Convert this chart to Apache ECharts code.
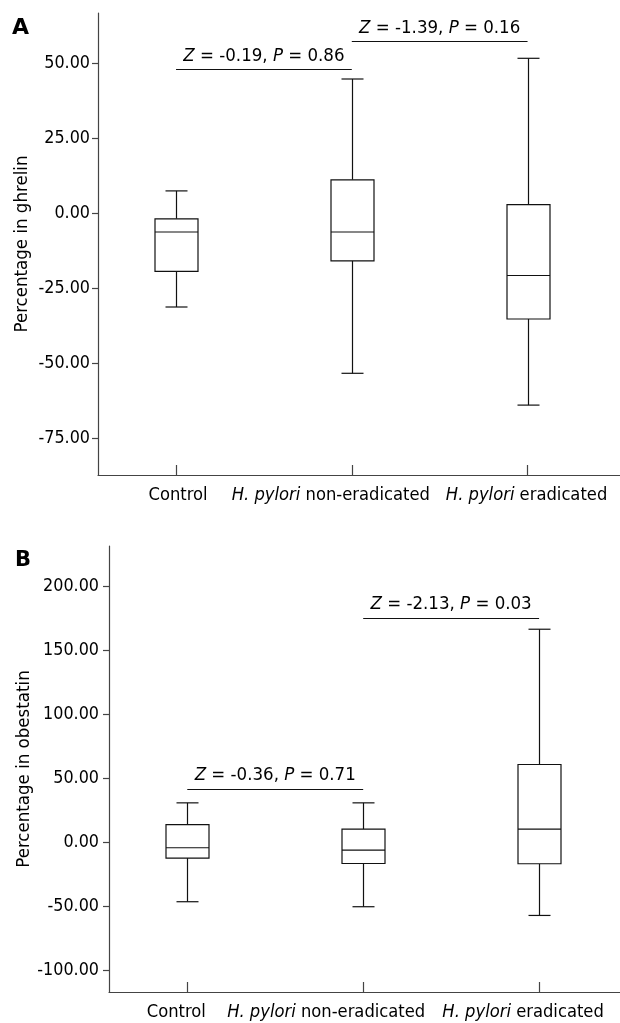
<!DOCTYPE html>
<html>
<head>
<meta charset="utf-8">
<script src="https://cdn.jsdelivr.net/npm/echarts@6/dist/echarts.min.js"></script>
<style>
  html, body { margin: 0; padding: 0; background: #fff; }
  #chart { width: 620px; height: 1023px; }
</style>
</head>
<body>
<div id="chart"></div>
<script>
// categories (x positions are the indexes 0, 1, 2)
const categories = ['Control', 'H. pylori non-eradicated', 'H. pylori eradicated'];

// panel A: ghrelin, [min, Q1, median, Q3, max]
const ghrelinMin = [-31.3, -53.4, -64.0];
const ghrelinQ1 = [-19.4, -15.9, -35.3];
const ghrelinMedian = [-6.3, -6.3, -20.8];
const ghrelinQ3 = [-1.9, 11.1, 2.8];
const ghrelinMax = [7.4, 44.7, 51.6];
const ghrelinTicks = [-75, -50, -25, 0, 25, 50];

// panel B: obestatin
const obestatinMin = [-46.2, -50.1, -56.9];
const obestatinQ1 = [-12.2, -16.4, -16.6];
const obestatinMedian = [-4.1, -5.9, 10.4];
const obestatinQ3 = [14.0, 10.4, 60.8];
const obestatinMax = [30.9, 30.9, 166.3];
const obestatinTicks = [-100, -50, 0, 50, 100, 150, 200];

// comparison bars: from group, to group, height, Z, P
const ghrelinCmpFrom = [0, 1];
const ghrelinCmpTo = [1, 2];
const ghrelinCmpY = [47.9, 57.2];
const ghrelinCmpZ = ['-0.19', '-1.39'];
const ghrelinCmpP = ['0.86', '0.16'];

const obestatinCmpFrom = [0, 1];
const obestatinCmpTo = [1, 2];
const obestatinCmpY = [41.6, 175.2];
const obestatinCmpZ = ['-0.36', '-2.13'];
const obestatinCmpP = ['0.71', '0.03'];

const FONT = '"DejaVu Sans Condensed", "DejaVu Sans"';
const INK = '#111';
const AXIS = '#444';
const BOX_W = 43;
const CAP_W = 22;

function boxData(mins, q1s, meds, q3s, maxs) {
  return categories.map((c, i) => [i, mins[i], q1s[i], meds[i], q3s[i], maxs[i]]);
}

function renderBox(params, api) {
  const x = api.value(0);
  const lo = api.coord([x, api.value(1)]);
  const q1 = api.coord([x, api.value(2)]);
  const md = api.coord([x, api.value(3)]);
  const q3 = api.coord([x, api.value(4)]);
  const hi = api.coord([x, api.value(5)]);
  const cx = Math.round(lo[0]) + 0.5;
  const w = BOX_W / 2, c = CAP_W / 2;
  const st = { stroke: INK, lineWidth: 1.2, fill: null };
  return {
    type: 'group',
    children: [
      { type: 'line', shape: { x1: cx, y1: hi[1], x2: cx, y2: q3[1] }, style: st },
      { type: 'line', shape: { x1: cx, y1: q1[1], x2: cx, y2: lo[1] }, style: st },
      { type: 'line', shape: { x1: cx - c, y1: hi[1], x2: cx + c, y2: hi[1] }, style: st },
      { type: 'line', shape: { x1: cx - c, y1: lo[1], x2: cx + c, y2: lo[1] }, style: st },
      { type: 'rect', shape: { x: cx - w, y: q3[1], width: BOX_W, height: q1[1] - q3[1] },
        style: { stroke: INK, lineWidth: 1.2, fill: '#fff' } },
      { type: 'line', shape: { x1: cx - w, y1: md[1], x2: cx + w, y2: md[1] }, style: st }
    ]
  };
}

function cmpLines(from, to, ys, zs, ps) {
  return from.map((f, i) => [
    { coord: [f, ys[i]], label: { formatter: '{i|Z} = ' + zs[i] + ', {i|P} = ' + ps[i] } },
    { coord: [to[i], ys[i]] }
  ]);
}

// the original sets the group names slightly off the tick marks (px, negative = left)
const labelShiftA = [2, -21, -1];
const labelShiftB = [-11, -37, -16];

function xAxis(gridIndex, min, max, plotWidth, shift) {
  const perUnit = plotWidth / (max - min);
  const labelAt = categories.map((c, i) => i + shift[i] / perUnit);
  return {
    type: 'value', gridIndex: gridIndex, min: min, max: max,
    splitLine: { show: false },
    axisLine: { show: true, onZero: false, lineStyle: { color: AXIS, width: 1.2 } },
    axisTick: { show: true, inside: true, length: 10, customValues: [0, 1, 2],
      lineStyle: { color: AXIS, width: 1.2 } },
    axisLabel: { show: true, customValues: labelAt, margin: 11,
      showMinLabel: true, showMaxLabel: true, hideOverlap: false,
      fontSize: 18.2, fontFamily: FONT, color: '#000',
      formatter: v => categories[Math.round(v)].replace('H. pylori', '{i|H. pylori}'),
      rich: { i: { fontStyle: 'italic', fontSize: 18.2, fontFamily: FONT, color: '#000' } } }
  };
}

function yAxis(gridIndex, min, max, ticks, name, gap, margin) {
  return {
    type: 'value', gridIndex: gridIndex, min: min, max: max,
    name: name, nameLocation: 'middle', nameGap: gap, nameMoveOverlap: false,
    nameTextStyle: { fontSize: 18.5, fontFamily: FONT, color: '#000' },
    splitLine: { show: false },
    axisLine: { show: true, onZero: false, lineStyle: { color: AXIS, width: 1.2 } },
    axisTick: { show: true, length: 6, customValues: ticks, lineStyle: { color: AXIS, width: 1.2 } },
    axisLabel: { show: true, customValues: ticks, margin: margin,
      showMinLabel: true, showMaxLabel: true,
      fontSize: 17.8, fontFamily: FONT, color: '#000',
      formatter: v => v.toFixed(2) }
  };
}

function cmpSeries(idx, lines) {
  return {
    type: 'line', xAxisIndex: idx, yAxisIndex: idx, data: [], silent: true,
    markLine: {
      symbol: ['none', 'none'], silent: true, animation: false,
      lineStyle: { type: 'solid', color: INK, width: 1.2 },
      label: { show: true, position: 'insideMiddleTop', distance: 4,
        fontSize: 18.5, fontFamily: FONT, color: '#000',
        rich: { i: { fontStyle: 'italic', fontSize: 18.5, fontFamily: FONT, color: '#000' } } },
      data: lines
    }
  };
}

const chart = echarts.init(document.getElementById('chart'));
chart.setOption({
  animation: false,
  backgroundColor: '#fff',
  title: [
    { text: 'A', left: 12, top: 17, padding: 0,
      textStyle: { fontSize: 22, fontWeight: 'bold', fontFamily: 'DejaVu Sans', color: '#000' } },
    { text: 'B', left: 15, top: 550, padding: 0,
      textStyle: { fontSize: 21, fontWeight: 'bold', fontFamily: 'DejaVu Sans', color: '#000' } }
  ],
  grid: [
    { left: 98, right: 0, top: 13, bottom: 548, outerBoundsMode: 'none' },
    { left: 109, right: 0, top: 546, bottom: 31, outerBoundsMode: 'none' }
  ],
  xAxis: [
    xAxis(0, -0.444, 2.526, 620 - 98, labelShiftA),
    xAxis(1, -0.445, 2.46, 620 - 109, labelShiftB)
  ],
  yAxis: [
    yAxis(0, -87.3, 66.7, ghrelinTicks, 'Percentage in ghrelin', 66, 8),
    yAxis(1, -116.6, 231.2, obestatinTicks, 'Percentage in obestatin', 75, 10)
  ],
  series: [
    { type: 'custom', xAxisIndex: 0, yAxisIndex: 0, renderItem: renderBox,
      encode: { x: 0, y: [1, 2, 3, 4, 5] },
      data: boxData(ghrelinMin, ghrelinQ1, ghrelinMedian, ghrelinQ3, ghrelinMax) },
    { type: 'custom', xAxisIndex: 1, yAxisIndex: 1, renderItem: renderBox,
      encode: { x: 0, y: [1, 2, 3, 4, 5] },
      data: boxData(obestatinMin, obestatinQ1, obestatinMedian, obestatinQ3, obestatinMax) },
    cmpSeries(0, cmpLines(ghrelinCmpFrom, ghrelinCmpTo, ghrelinCmpY, ghrelinCmpZ, ghrelinCmpP)),
    cmpSeries(1, cmpLines(obestatinCmpFrom, obestatinCmpTo, obestatinCmpY, obestatinCmpZ, obestatinCmpP))
  ]
});
</script>
</body>
</html>
